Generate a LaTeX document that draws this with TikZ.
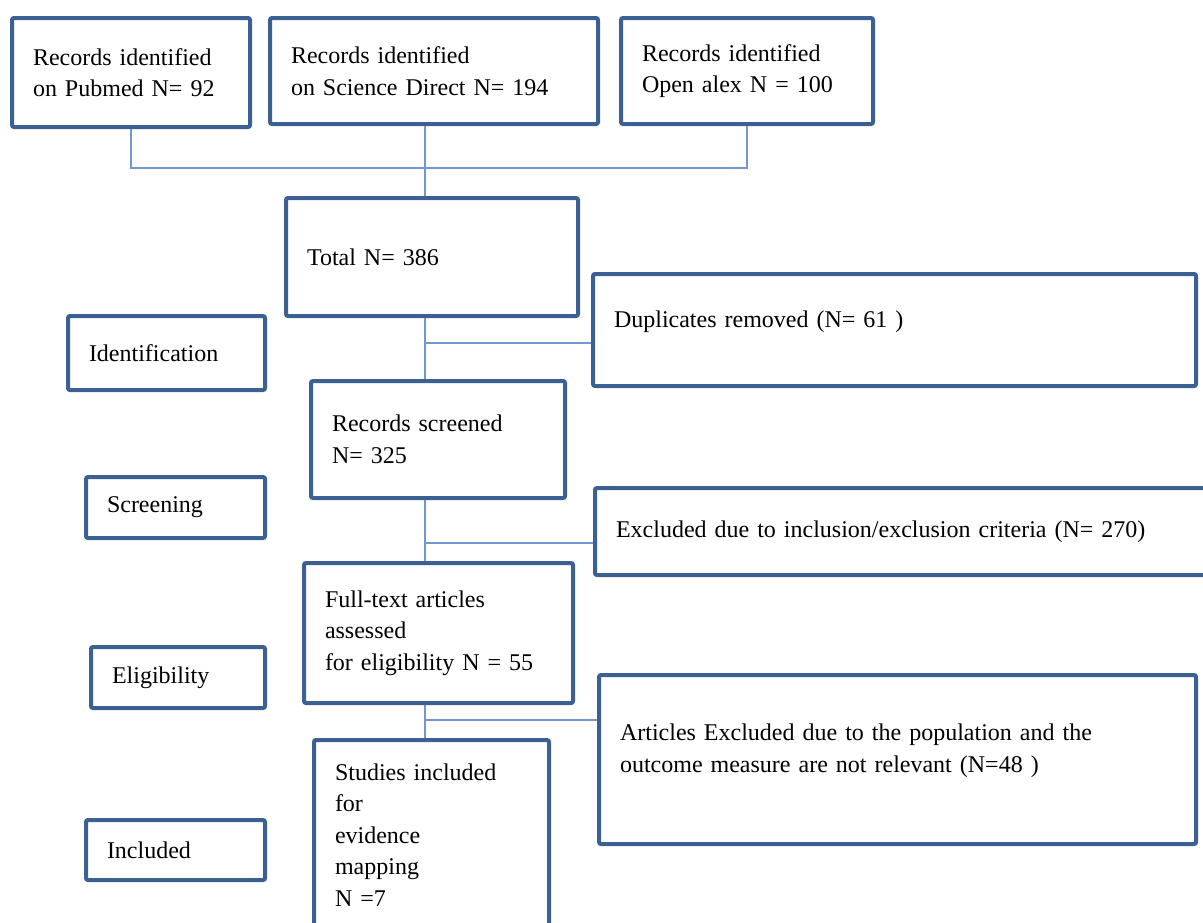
\documentclass[tikz,border=0pt]{standalone}
\usepackage{fontspec}
\setmainfont{Liberation Serif}
\usetikzlibrary{calc}
\definecolor{boxblue}{RGB}{60,96,146}
\definecolor{linkblue}{RGB}{112,152,206}
\tikzset{
	stage/.style={draw=boxblue, line width=2pt, rounded corners=1pt, fill=white,
		anchor=north west, align=left, inner xsep=10.5pt, inner ysep=3pt,
		font=\fontsize{12}{15.75}\selectfont},
	link/.style={draw=linkblue, line width=0.8pt}
}
\begin{document}
\begin{tikzpicture}[x=0.5pt, y=-0.5pt]
	\clip (0,0) rectangle (1203,922);
	% sources
	\node[stage, text width=98pt, minimum height=54.5pt] (pub) at (10,16) {Records identified\\on Pubmed N= 92};
	\node[stage, text width=143pt, minimum height=53pt] (sd) at (268,16) {Records identified\\on Science Direct N= 194};
	\node[stage, text width=105pt, minimum height=53pt] (oa) at (619,16) {Records identified\\Open alex N = 100};
	% main flow
	\node[stage, text width=125pt, minimum height=59pt] (total) at (284,196) {Total N= 386};
	\node[stage, text width=106pt, minimum height=58.5pt] (screened) at (309,379) {Records screened\\N= 325};
	\node[stage, text width=113.5pt, minimum height=70pt] (full) at (302,561) {Full-text articles\\assessed\\for eligibility N = 55};
	\node[stage, text width=96.5pt, minimum height=95pt] (studies) at (312,738) {Studies included\\for\\evidence\\mapping\\N =7};
	% exclusions
	\node[stage, text width=280.5pt, minimum height=56pt, text depth=10.5pt] (dup) at (591,272) {Duplicates removed (N= 61 )};
	\node[stage, text width=286.5pt, minimum height=43.5pt] (excl) at (593,486) {Excluded due to inclusion/exclusion criteria (N= 270)};
	\node[stage, text width=277.5pt, minimum height=84.5pt, text depth=27pt] (art) at (597,673) {Articles Excluded due to the population and the\\outcome measure are not relevant (N=48 )};
	% phases
	\node[stage, text width=77.5pt, minimum height=37pt] (ident) at (66,314) {Identification};
	\node[stage, text width=68.5pt, minimum height=30.5pt] (screening) at (84,475) {Screening};
	\node[stage, text width=66pt, minimum height=30.5pt] (elig) at (89,645) {Eligibility};
	\node[stage, text width=68.5pt, minimum height=30pt] (incl) at (84,818) {Included};
	% connectors
	\coordinate (spine) at (425,0);
	\coordinate (bus) at (0,168);
	\coordinate (cut1) at (425,343);
	\coordinate (cut2) at (425,543);
	\coordinate (cut3) at (425,720);
	\draw[link] (pub.south) -- (pub.south |- bus) -- (oa.south |- bus) -- (oa.south);
	\draw[link] (sd.south -| spine) -- (total.north -| spine);
	\draw[link] (total.south -| spine) -- (screened.north -| spine);
	\draw[link] (screened.south -| spine) -- (full.north -| spine);
	\draw[link] (full.south -| spine) -- (studies.north -| spine);
	\draw[link] (cut1) -- (cut1 -| dup.west);
	\draw[link] (cut2) -- (cut2 -| excl.west);
	\draw[link] (cut3) -- (cut3 -| art.west);
\end{tikzpicture}
\end{document}
